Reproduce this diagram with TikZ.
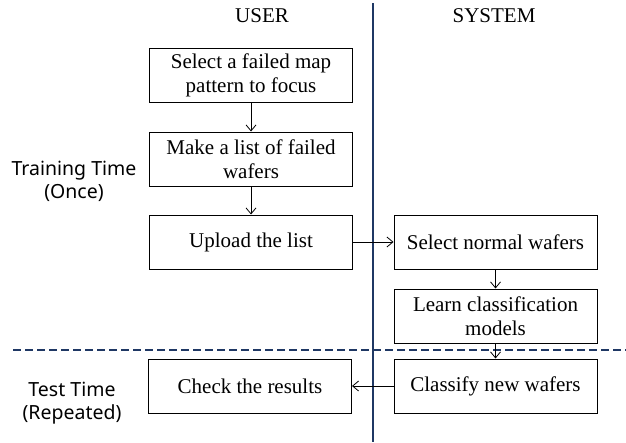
\documentclass[tikz,border=0pt]{standalone}
\usepackage{fontspec}
\setmainfont{Liberation Serif}
\newfontfamily\phasefont{Noto Sans}
\usetikzlibrary{arrows.meta}
\definecolor{lanecolor}{RGB}{31,56,100}
\pgfkeys{/pixels/.code=\tikzset{x=1pt,y=-1pt}}
\tikzset{
  stepbox/.style={draw,line width=1pt,minimum width=203pt,minimum height=54pt,
    inner sep=0pt,align=center,font=\fontsize{21}{24}\selectfont},
  flow/.style={-{Straight Barb[length=6pt,width=10pt]},line width=0.8pt},
  lane/.style={lanecolor,line width=2pt},
  phase/.style={align=center,font=\phasefont\fontsize{19.5}{23}\selectfont},
  header/.style={font=\fontsize{21}{24}\selectfont}
}

\begin{document}
\begin{tikzpicture}[/pixels]
  \useasboundingbox (0,0) rectangle (626,442);

  \draw[lane] (373,3) -- (373,442);
  \draw[lane,dash pattern=on 8pt off 4pt] (13,350) -- (626,350);

  \node[header] (user) at (262,16) {USER};
  \node[header] (system) at (494,16) {SYSTEM};

  \node[phase] (training) at (74,181) {Training Time\\(Once)};
  \node[phase] (test) at (72,403) {Test Time\\(Repeated)};

  \node[stepbox] (select) at (251,75.5) {Select a failed map\\pattern to focus};
  \node[stepbox] (make) at (251,159) {Make a list of failed\\wafers};
  \node[stepbox] (upload) at (251,242) {Upload the list};
  \node[stepbox] (normal) at (495.5,242) {Select normal wafers};
  \node[stepbox] (learn) at (495.5,316) {Learn classification\\models};
  \node[stepbox] (check) at (250,386) {Check the results};
  \node[stepbox] (classify) at (495.5,386) {Classify new wafers};

  \draw[flow] (select) -- (make);
  \draw[flow] (make) -- (upload);
  \draw[flow] (upload) -- (normal);
  \draw[flow] (normal) -- (learn);
  \draw[flow] (learn) -- (classify);
  \draw[flow] (classify) -- (check);
\end{tikzpicture}
\end{document}
